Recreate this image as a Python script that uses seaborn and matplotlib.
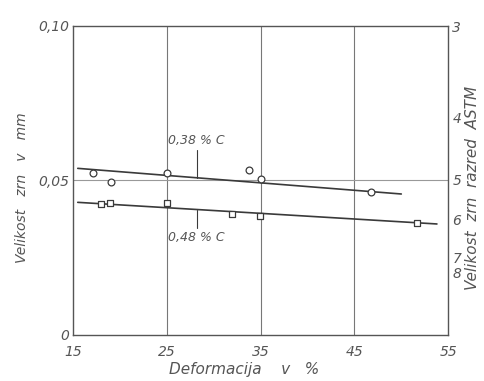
import matplotlib
matplotlib.use('Agg')
import matplotlib.pyplot as plt
import seaborn as sns

# measured points, 0.38 % C (circles)
def_038 = [17.1, 19.0, 25.0, 33.8, 35.0, 46.75]
size_038 = [0.0525, 0.0496, 0.0523, 0.0534, 0.0504, 0.0461]
fit_038_x = [15.5, 50.0]
fit_038_y = [0.0539, 0.0456]

# measured points, 0.48 % C (squares)
def_048 = [17.95, 18.9, 25.0, 31.9, 34.9, 51.7]
size_048 = [0.0424, 0.0426, 0.0426, 0.0392, 0.0385, 0.0361]
fit_048_x = [15.5, 53.8]
fit_048_y = [0.0429, 0.0359]

x_ticks = [15, 25, 35, 45, 55]
y_ticks = [0, 0.05, 0.10]
y_tick_labels = ['0', '0,05', '0,10']
astm_pos = [0.0997, 0.0705, 0.0502, 0.0375, 0.0249, 0.0201]
astm_labels = ['3', '4', '5', '6', '7', '8']

sns.set_style('white')
plt.rcParams['font.family'] = ['DejaVu Sans']
ink = '#3a3a3a'
txt = '#555555'

fig = plt.figure(figsize=(4.84, 3.81), dpi=100)
ax = fig.add_axes([0.151, 0.121, 0.775, 0.811])

# grid lines
for gx in [25, 35, 45]:
    ax.axvline(gx, color='#777777', lw=0.8, zorder=0)
ax.axhline(0.05, color='#999999', lw=0.8, zorder=0)

sns.lineplot(x=fit_038_x, y=fit_038_y, ax=ax, color=ink, lw=1.2)
sns.lineplot(x=fit_048_x, y=fit_048_y, ax=ax, color=ink, lw=1.2)
sns.scatterplot(x=def_038, y=size_038, ax=ax, marker='o', s=24,
                facecolor='white', edgecolor=ink, linewidth=0.9, zorder=3)
sns.scatterplot(x=def_048, y=size_048, ax=ax, marker='s', s=22,
                facecolor='white', edgecolor=ink, linewidth=0.9, zorder=3)

# curve labels with leader lines
ax.plot([28.2, 28.2], [0.0508, 0.0600], color=ink, lw=0.8)
ax.text(25.1, 0.0630, '0,38 % C', fontsize=9, style='italic', color=txt,
        ha='left', va='center')
ax.plot([28.2, 28.2], [0.0346, 0.0405], color=ink, lw=0.8)
ax.text(25.1, 0.0315, '0,48 % C', fontsize=9, style='italic', color=txt,
        ha='left', va='center')

ax.set_xlim(15, 55)
ax.set_ylim(0, 0.10)
ax.set_xticks(x_ticks)
ax.set_xticklabels([str(t) for t in x_ticks])
ax.set_yticks(y_ticks)
ax.set_yticklabels(y_tick_labels)
ax.tick_params(axis='x', length=0, pad=7, labelsize=10, labelcolor=txt)
ax.tick_params(axis='y', length=0, pad=3, labelsize=10, labelcolor=txt)
for lab in ax.get_xticklabels() + ax.get_yticklabels():
    lab.set_style('italic')
for sp in ax.spines.values():
    sp.set_color('#555555')
    sp.set_linewidth(1.0)

ax.set_xlabel('Deformacija    v   %', fontsize=11, style='italic', color=txt)
ax.xaxis.set_label_coords(0.456, -0.088)
ax.set_ylabel('Velikost   zrn   v   mm', fontsize=10, style='italic', color=txt)
ax.yaxis.set_label_coords(-0.118, 0.475)

# ASTM grain size scale on the right
ax2 = ax.twinx()
ax2.set_ylim(0, 0.10)
ax2.set_yticks(astm_pos)
ax2.set_yticklabels(astm_labels)
ax2.tick_params(axis='y', length=0, pad=3, labelsize=10, labelcolor=txt)
for lab in ax2.get_yticklabels():
    lab.set_style('italic')
for sp in ax2.spines.values():
    sp.set_visible(False)
ax2.set_ylabel('Velikost  zrn  razred  ASTM', fontsize=11, style='italic',
               color=txt)
ax2.yaxis.set_label_coords(1.045, 0.475)

fig.savefig('out.png', dpi=100)
